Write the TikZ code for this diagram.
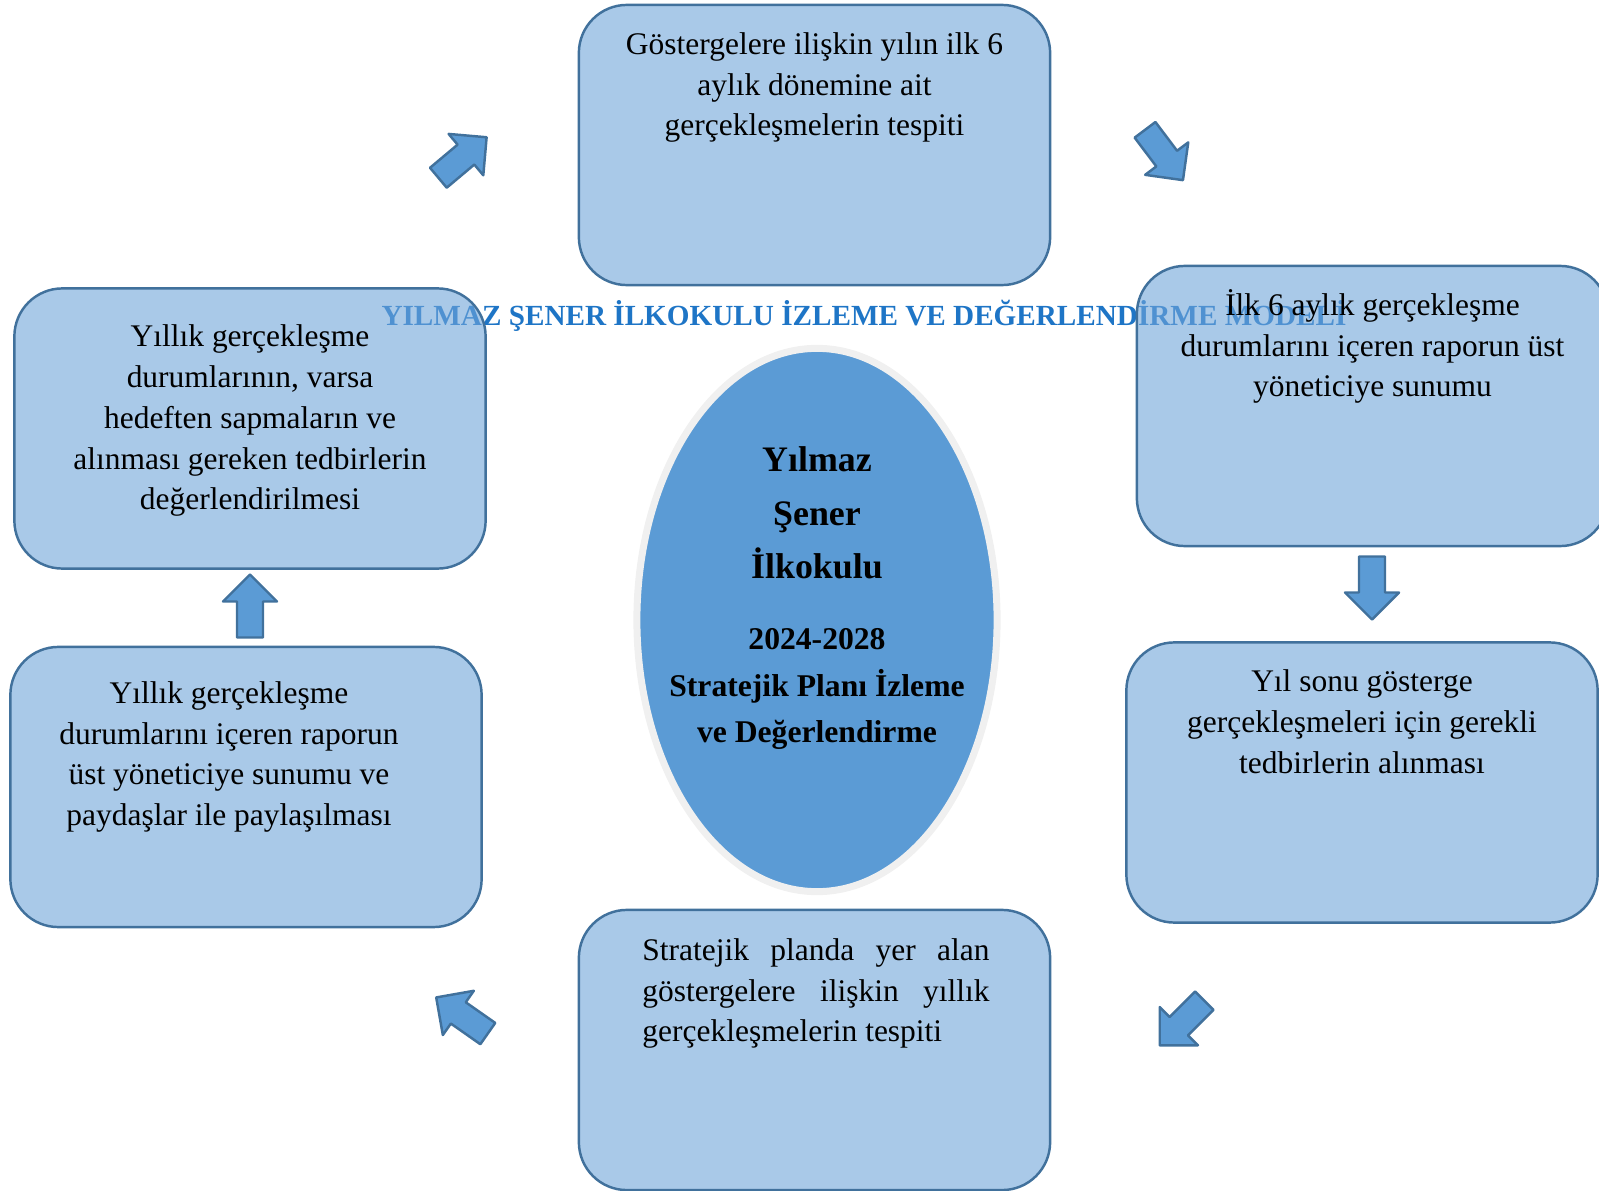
\documentclass[tikz,border=0pt]{standalone}
\usepackage{fontspec}
\setmainfont{Liberation Serif}
\usetikzlibrary{positioning,shapes.geometric}

\definecolor{boxfill}{RGB}{112,165,217}
\definecolor{boxline}{RGB}{65,113,156}
\definecolor{arrowfill}{RGB}{91,155,213}
\definecolor{ovalfill}{RGB}{91,155,213}
\definecolor{ovalring}{RGB}{240,240,240}
\definecolor{titleblue}{RGB}{30,117,198}

\tikzset{
  stagebox/.style={draw=boxline, line width=0.7pt, fill=boxfill, fill opacity=0.6,
    rounded corners=0.48cm, minimum width=4.71cm, minimum height=2.8cm, inner sep=0pt},
  stagetext/.style={font=\fontsize{8.95}{11.6}\selectfont, align=center, inner sep=0pt},
  oval/.style={ellipse, fill=ovalfill, draw=ovalring, line width=0.07cm,
    minimum width=3.6cm, minimum height=5.43cm, inner sep=0pt},
  nametext/.style={font=\bfseries\fontsize{10.2}{15.2}\selectfont, align=center, inner sep=0pt},
  plantext/.style={font=\bfseries\fontsize{9}{13.2}\selectfont, align=center, inner sep=0pt},
  modeltitle/.style={font=\bfseries\fontsize{8.3}{10}\selectfont, text=titleblue, inner sep=0pt},
  pics/blockarrow/.style={code={
    \draw[draw=boxline, line width=0.7pt, fill=arrowfill, line join=round]
      (-31.5,-13) -- (4.5,-13) -- (4.5,-27) -- (31.5,0) -- (4.5,27) -- (4.5,13) -- (-31.5,13) -- cycle;
  }}
}

\begin{document}
\begin{tikzpicture}[x=.01cm,y=-.01cm]

\useasboundingbox (0,0) rectangle (1599,1191);

% Title, it sits behind the boxes
\node[modeltitle] (title) at (864,316) {YILMAZ ŞENER İLKOKULU İZLEME VE DEĞERLENDİRME MODELİ};

% The six stages, clockwise from the top
\node[stagebox] (s1) at (814.5,145) {};
\node[stagebox] (s2) at (1372.5,406) {};
\node[stagebox] (s3) at (1362,782.5) {};
\node[stagebox] (s4) at (814.5,1050) {};
\node[stagebox] (s5) at (246,787) {};
\node[stagebox] (s6) at (250,428.5) {};

\node[stagetext, below=0.28cm of s1.north] (t1)
  {Göstergelere ilişkin yılın ilk 6\\aylık dönemine ait\\gerçekleşmelerin tespiti};
\node[stagetext, below=0.24cm of s2.north] (t2)
  {İlk 6 aylık gerçekleşme\\durumlarını içeren raporun üst\\yöneticiye sunumu};
\node[stagetext, below=0.28cm of s3.north] (t3)
  {Yıl sonu gösterge\\gerçekleşmeleri için gerekli\\tedbirlerin alınması};
\node[stagetext, text width=3.47cm, align=justify, below=0.29cm of s4.north, xshift=0.015cm] (t4)
  {Stratejik planda yer alan\linebreak göstergelere ilişkin yıllık\linebreak gerçekleşmelerin tespiti};
\node[stagetext, below=0.35cm of s5.north, xshift=-0.17cm] (t5)
  {Yıllık gerçekleşme\\durumlarını içeren raporun\\üst yöneticiye sunumu ve\\paydaşlar ile paylaşılması};
\node[stagetext, below=0.37cm of s6.north] (t6)
  {Yıllık gerçekleşme\\durumlarının, varsa\\hedeften sapmaların ve\\alınması gereken tedbirlerin\\değerlendirilmesi};

% The school in the middle
\node[oval] (model) at (817,620) {};
\node[nametext] (name) at (817,513) {Yılmaz\\Şener\\İlkokulu};
\node[plantext] (plan) at (817,689) {2024-2028\\Stratejik Planı İzleme\\ve Değerlendirme};

% Block arrows between the stages
\foreach \x/\y/\a in {462.5/157.5/40, 1164/155/-53, 1372/588/-90,
                      1182/1023/-135, 462/1015.5/145, 250/606/90}
  \pic[rotate=\a] at (\x,\y) {blockarrow};

\end{tikzpicture}
\end{document}
